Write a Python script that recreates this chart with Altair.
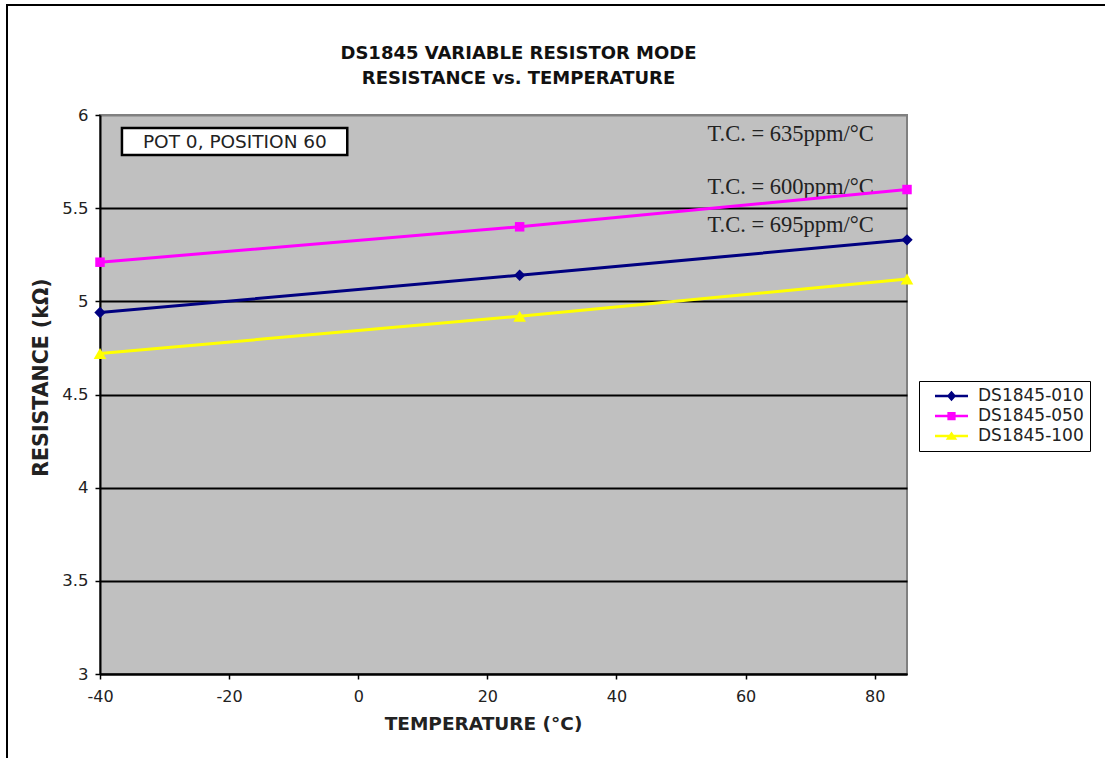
import altair as alt
import pandas as pd

# ---- data ----
temps = [-40, 25, 85]
series_names = ["DS1845-010", "DS1845-050", "DS1845-100"]
res_010 = [4.94, 5.14, 5.33]
res_050 = [5.21, 5.40, 5.60]
res_100 = [4.72, 4.92, 5.12]

x_ticks = [-40, -20, 0, 20, 40, 60, 80]
y_ticks = [3, 3.5, 4, 4.5, 5, 5.5, 6]

tc_labels = ["T.C. = 635ppm/°C", "T.C. = 600ppm/°C", "T.C. = 695ppm/°C"]
tc_temp = [54.1, 54.1, 54.1]
tc_res = [5.86, 5.576, 5.372]

pot_label = ["POT 0, POSITION 60"]
pot_temp = [-19.1]
pot_res = [5.855]
pot_box_temp = [-36.6]
pot_box_temp2 = [-1.7]
pot_box_res = [5.93]
pot_box_res2 = [5.785]

title_lines = ["DS1845 VARIABLE RESISTOR MODE", "RESISTANCE vs. TEMPERATURE"]

# ---- styles ----
colors = ["#000080", "#ff00ff", "#ffff00"]
marker_shapes = ["diamond", "square", "triangle-up"]
marker_sizes = [130, 90, 160]
bar = "M-1,-0.075H1V0.075H-1Z "
legend_paths = [
    bar + "M0,-0.32L0.28,0L0,0.32L-0.28,0Z",
    bar + "M-0.25,-0.25H0.25V0.25H-0.25Z",
    bar + "M0,-0.28L0.35,0.23H-0.35Z",
]

rows = []
for name, vals in zip(series_names, [res_010, res_050, res_100]):
    for t, v in zip(temps, vals):
        rows.append({"temp": t, "res": v, "series": name})
df = pd.DataFrame(rows)

tc_df = pd.DataFrame({"temp": tc_temp, "res": tc_res, "label": tc_labels})
pot_df = pd.DataFrame({"temp": pot_temp, "res": pot_res, "label": pot_label})
box_df = pd.DataFrame({"temp": pot_box_temp, "temp2": pot_box_temp2,
                       "res": pot_box_res, "res2": pot_box_res2})

X = alt.X("temp:Q",
          scale=alt.Scale(domain=[-40, 85], nice=False, zero=False),
          axis=alt.Axis(values=x_ticks, grid=False, title="TEMPERATURE (°C)",
                        labelExpr="datum.value + ''", labelPadding=9, labelFlush=False,
                        titleFontSize=18.5, titleX=383, titleY=55,
                        titleBaseline="alphabetic", titleAnchor="middle"))
Y = alt.Y("res:Q",
          scale=alt.Scale(domain=[3, 6], nice=False, zero=False),
          axis=alt.Axis(values=y_ticks, grid=True, format="~g", labelFlush=False,
                        title="RESISTANCE (kΩ)", labelPadding=7, labelFontSize=16.5,
                        gridColor={"condition": {"test": "datum.value >= 6", "value": "#808080"},
                                   "value": "#000000"},
                        gridWidth=2, titleFontSize=20.5, titleX=-59, titleY=262,
                        titleBaseline="middle", titleAngle=270))

color_scale = alt.Scale(domain=series_names, range=colors)

leg = alt.Legend(title=None, orient="none", legendX=819, legendY=266,
                 strokeColor="black", fillColor="white", padding=6,
                 clipHeight=18, rowPadding=2, symbolSize=1089,
                 symbolOffset=10, labelOffset=10, labelFont="DejaVu Sans",
                 labelFontSize=17, labelColor="#222222",
                 symbolStrokeWidth=0, symbolOpacity=1)

# invisible layer that only carries the legend (first, so its legend settings win)
legend_layer = alt.Chart(df).mark_point(filled=True, opacity=0).encode(
    x=X, y=Y,
    color=alt.Color("series:N", scale=color_scale, legend=leg),
    shape=alt.Shape("series:N", scale=alt.Scale(domain=series_names, range=legend_paths),
                    legend=leg))

box = alt.Chart(box_df).mark_rect(fill="white", stroke="black", strokeWidth=2.5).encode(
    x=X, x2="temp2:Q", y=Y, y2="res2:Q")

pot_text = alt.Chart(pot_df).mark_text(font="DejaVu Sans", fontSize=18.5, color="#222222",
                                       align="center", baseline="middle").encode(
    x=X, y=Y, text="label:N")

tc_text = alt.Chart(tc_df).mark_text(font="Liberation Serif", fontSize=22.5, color="#222222",
                                     align="left", baseline="alphabetic").encode(
    x=X, y=Y, text="label:N")

lines = alt.Chart(df).mark_line(strokeWidth=3).encode(
    x=X, y=Y, color=alt.Color("series:N", scale=color_scale))

point_layers = []
for name, shp, sz in zip(series_names, marker_shapes, marker_sizes):
    point_layers.append(
        alt.Chart(df).transform_filter(alt.datum.series == name)
        .mark_point(shape=shp, filled=True, size=sz, opacity=1, strokeWidth=0)
        .encode(x=X, y=Y, color=alt.Color("series:N", scale=color_scale))
    )

frame_df = pd.DataFrame({"k": [0]})
frame_left = alt.Chart(frame_df).mark_rule(color="black", strokeWidth=2).encode(
    x=alt.value(-93), y=alt.value(-110), y2=alt.value(643))
frame_top = alt.Chart(frame_df).mark_rule(color="black", strokeWidth=2).encode(
    y=alt.value(-110), x=alt.value(-94), x2=alt.value(1005))

chart = alt.layer(legend_layer, box, pot_text, tc_text, lines, *point_layers,
                  frame_left, frame_top).properties(
    width=807, height=559,
    autosize=alt.AutoSizeParams(type="none"),
    padding={"left": 100, "top": 115, "right": 198, "bottom": 84},
    background="white",
    title=alt.TitleParams(title_lines, font="DejaVu Sans", fontSize=18, fontWeight="bold",
                          color="#111111", anchor="middle", baseline="bottom",
                          frame="group", offset=27, dx=15, dy=129, lineHeight=25),
).configure_view(
    stroke="#808080", strokeWidth=2, fill="#c0c0c0"
).configure_axis(
    domainColor="black", domainWidth=2, tickColor="black", tickWidth=1.5, tickSize=5,
    labelFont="DejaVu Sans", labelFontSize=16, labelColor="#222222",
    titleFont="DejaVu Sans", titleFontWeight="bold", titleColor="#222222"
)

chart.save("out.html", embed_options={"renderer": "svg", "actions": False})
